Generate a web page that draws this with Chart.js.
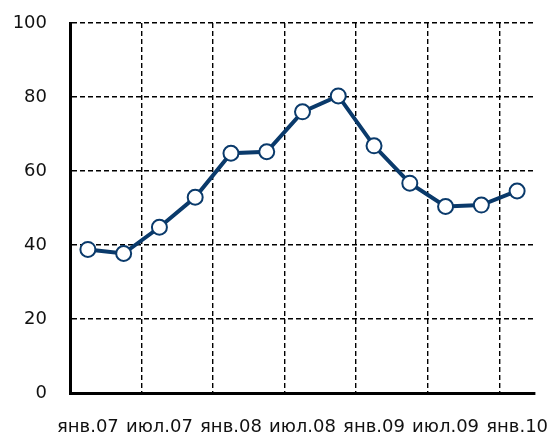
<!DOCTYPE html>
<html>
<head>
<meta charset="utf-8">
<script src="https://cdn.jsdelivr.net/npm/chart.js@4"></script>
<style>
  html, body { margin: 0; padding: 0; background: #fff; }
  #wrap { width: 555px; height: 438px; }
</style>
</head>
<body>
<div id="wrap"><canvas id="mainChart"></canvas></div>
<script>
// quarterly points, label shown every second one
const quarters = ["янв.07", "апр.07", "июл.07", "окт.07", "янв.08", "апр.08", "июл.08",
                  "окт.08", "янв.09", "апр.09", "июл.09", "окт.09", "янв.10"];
const values = [38.8, 37.7, 44.8, 52.9, 64.8, 65.2, 76.0, 80.3, 66.8, 56.7, 50.4, 50.8, 54.6];
const yTicks = [0, 20, 40, 60, 80, 100];

const navy = "#0a3a6b";
const font = { family: "DejaVu Sans", size: 18 };

new Chart(document.getElementById("mainChart"), {
    type: 'line',
    data: {
        labels: quarters,
        datasets: [{
            data: values,
            borderColor: navy,
            borderWidth: 4,
            pointRadius: 7.5,
            pointBorderWidth: 2,
            pointBackgroundColor: "#fff",
            pointBorderColor: navy,
            tension: 0
        }]
    },
    options: {
        responsive: true,
        maintainAspectRatio: false,
        animation: false,
        events: [],
        layout: { padding: { top: 23, right: 20, left: 0, bottom: 0 } },
        plugins: { legend: { display: false }, tooltip: { enabled: false } },
        scales: {
            x: {
                offset: true,
                grid: {
                    offset: true,
                    drawTicks: false,
                    lineWidth: 1.4,
                    color: ctx => (ctx.index > 0 && ctx.index < quarters.length && ctx.index % 2 == 0) ? "#000" : "rgba(0,0,0,0)"
                },
                border: { color: "#000", width: 3, dash: [5, 3] },
                ticks: {
                    autoSkip: false,
                    maxRotation: 0,
                    padding: 24,
                    color: "#111",
                    font: font,
                    callback: (v, i) => i % 2 == 0 ? quarters[i] : ""
                },
                afterFit: s => { s.height = 45; s.paddingLeft = 0; s.paddingRight = 0; }
            },
            y: {
                min: 0,
                max: 100,
                afterBuildTicks: s => { s.ticks = yTicks.map(v => ({ value: v })); },
                grid: {
                    drawTicks: false,
                    lineWidth: 1.4,
                    color: ctx => ctx.tick && ctx.tick.value > 0 ? "#000" : "rgba(0,0,0,0)"
                },
                border: { color: "#000", width: 3, dash: [5, 3] },
                ticks: { padding: 23, color: "#111", font: font },
                afterFit: s => { s.width = 70; s.paddingTop = 0; s.paddingBottom = 0; }
            }
        }
    }
});
</script>
</body>
</html>
